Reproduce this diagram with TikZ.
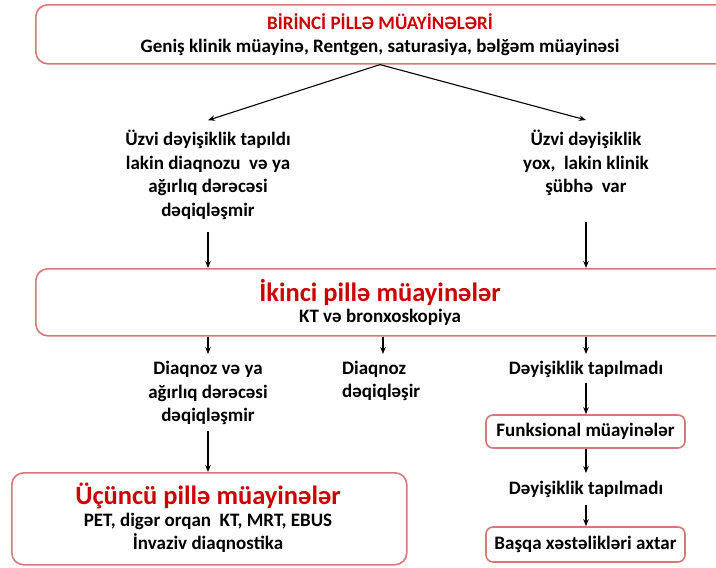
\documentclass[tikz,border=0pt]{standalone}
\usepackage{fontspec}
\setmainfont{Carlito}
\usetikzlibrary{arrows.meta}
\definecolor{boxred}{RGB}{214,120,120}
\definecolor{titlered}{RGB}{204,0,0}
\begin{document}
\begin{tikzpicture}[x=1pt,y=-1pt,
  box/.style={draw=boxred, line width=1.6pt, fill=white, inner sep=0pt},
  bigbox/.style={box, rounded corners=12pt},
  smallbox/.style={box, rounded corners=7pt, font=\fontsize{19}{22}\selectfont\bfseries},
  txt/.style={align=center, font=\fontsize{19}{23.5}\selectfont\bfseries, inner sep=0pt},
  ttl/.style={align=center, font=\fontsize{26.5}{28}\selectfont\bfseries, text=titlered, inner sep=0pt},
  arr/.style={-{Stealth[length=7pt,width=5.5pt]}, line width=1.1pt}]
\useasboundingbox (0,0) rectangle (716,568);
% boxes
\node[bigbox, minimum width=700pt, minimum height=59pt, anchor=north west] (b1) at (35,4) {};
\node[bigbox, minimum width=700pt, minimum height=67pt, anchor=north west] (b2) at (35,268) {};
\node[bigbox, minimum width=395pt, minimum height=92pt, anchor=north west] (b5) at (11,472) {};
\node[smallbox, minimum width=199pt, minimum height=33pt] (b3) at (585.5,431.5) {Funksional müayinələr};
\node[smallbox, minimum width=199pt, minimum height=35pt] (b4) at (585.5,544.5) {Başqa xəstəlikləri axtar};
% texts in boxes
\node[txt, text=titlered] (t1) at (380,22) {BİRİNCİ PİLLƏ MÜAYİNƏLƏRİ};
\node[txt] (s1) at (380,47) {Geniş klinik müayinə, Rentgen, saturasiya, bəlğəm müayinəsi};
\node[ttl] (t2) at (380,292) {İkinci pillə müayinələr};
\node[txt] (s2) at (380,317) {KT və bronxoskopiya};
\node[ttl] (t5) at (208,496) {Üçüncü pillə müayinələr};
\node[txt] (s5) at (208,533) {PET, digər orqan\ \ KT, MRT, EBUS\\İnvaziv diaqnostika};
% free texts
\node[txt] (L1) at (208,175) {Üzvi dəyişiklik tapıldı\\lakin diaqnozu\ \ və ya\\ağırlıq dərəcəsi\\dəqiqləşmir};
\node[txt] (R1) at (586,163) {Üzvi dəyişiklik\\yox,\ \ lakin klinik\\şübhə\ \ var};
\node[txt] (L2) at (208,393) {Diaqnoz və ya\\ağırlıq dərəcəsi\\dəqiqləşmir};
\node[txt, align=left, anchor=west] (M2) at (342,381) {Diaqnoz\\dəqiqləşir};
\node[txt] (R2) at (586,369) {Dəyişiklik tapılmadı};
\node[txt] (R3) at (586,489) {Dəyişiklik tapılmadı};
\coordinate (m2top) at (383,354);
% connectors
\draw[arr] (s1 |- b1.south) -- ([yshift=10pt]L1.north);
\draw[arr] (s1 |- b1.south) -- ([yshift=10pt]R1.north);
\draw[arr] ([yshift=-12pt]L1.south) -- (L1 |- b2.north);
\draw[arr] ([yshift=-26pt]R1.south) -- (R1 |- b2.north);
\draw[arr] (L2 |- b2.south) -- ([yshift=7pt]L2.north);
\draw[arr] (m2top |- b2.south) -- (m2top);
\draw[arr] (R2 |- b2.south) -- ([yshift=6.5pt]R2.north);
\draw[arr] ([yshift=-6pt]R2.south) -- (R2 |- b3.north);
\draw[arr] ([yshift=-6pt]L2.south) -- (L2 |- b5.north);
\draw[arr] (R3 |- b3.south) -- ([yshift=7.5pt]R3.north);
\draw[arr] ([yshift=-7.5pt]R3.south) -- (R3 |- b4.north);
\end{tikzpicture}
\end{document}
